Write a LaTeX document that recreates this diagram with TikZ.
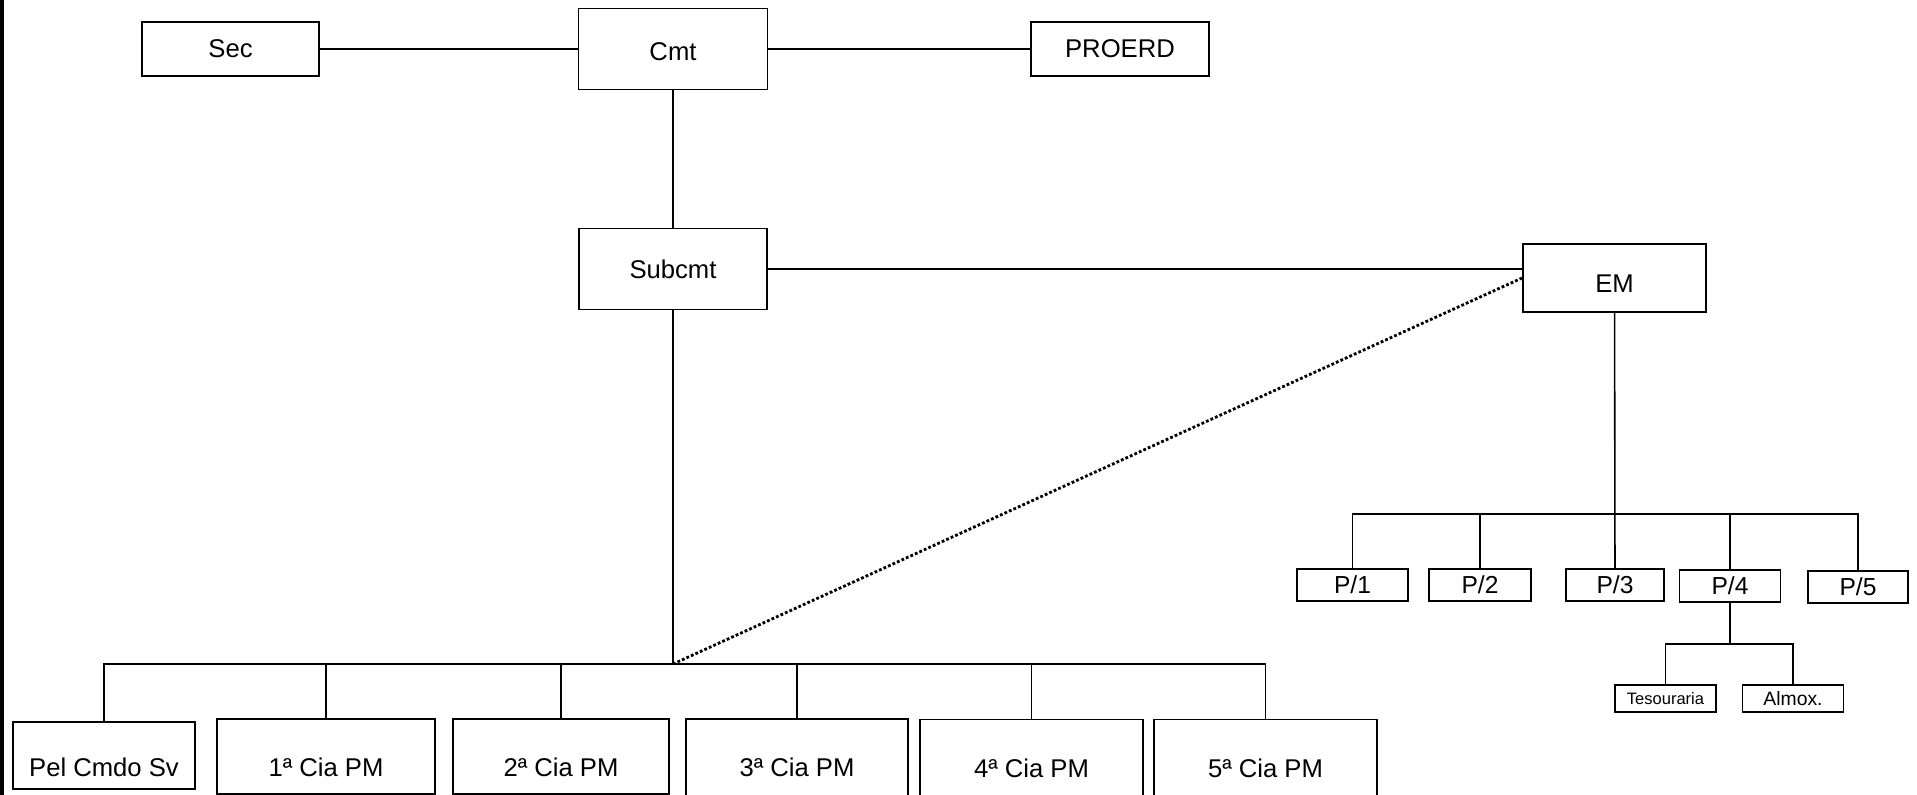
\documentclass[tikz,border=0pt]{standalone}
\usepackage{fontspec}
\setmainfont{Liberation Sans}
\begin{document}
\begin{tikzpicture}[
  box/.style={draw,line width=0.55pt,inner sep=0pt,font=\fontsize{7.3}{9}\selectfont},
  pbox/.style={box,minimum height=0.32cm,font=\fontsize{7}{8}\selectfont},
  ciabox/.style={box,inner ysep=0pt,text height=0.58cm,text depth=0.17cm},
  link/.style={line width=0.45pt}]
  \useasboundingbox (0,0) rectangle (19.17,-7.95);
  \fill (0,0) rectangle (0.045,-7.95);
  \node[box,minimum width=1.77cm,minimum height=0.54cm] (sec) at (2.305,-0.49) {Sec};
  \node[box,minimum width=1.89cm,minimum height=0.81cm,text height=0.23cm] (cmt) at (6.73,-0.49) {Cmt};
  \node[box,minimum width=1.88cm,minimum height=0.81cm] (subcmt) at (6.73,-2.69) {Subcmt};
  \node[box,minimum width=1.78cm,minimum height=0.54cm] (proerd) at (11.20,-0.49) {PROERD};
  \node[box,minimum width=1.83cm,minimum height=0.68cm,text height=0.29cm] (em) at (16.145,-2.78) {EM};
  \node[pbox,minimum width=1.11cm] (p1) at (13.525,-5.85) {P/1};
  \node[pbox,minimum width=1.02cm] (p2) at (14.80,-5.85) {P/2};
  \node[pbox,minimum width=0.98cm] (p3) at (16.15,-5.85) {P/3};
  \node[pbox,minimum width=1.01cm] (p4) at (17.30,-5.86) {P/4};
  \node[pbox,minimum width=1.00cm] (p5) at (18.58,-5.87) {P/5};
  \node[box,minimum width=1.01cm,minimum height=0.27cm,font=\fontsize{4.7}{5}\selectfont] (tes) at (16.655,-6.985) {Tesouraria};
  \node[box,minimum width=1.01cm,minimum height=0.27cm,font=\fontsize{5.5}{6}\selectfont] (almox) at (17.93,-6.985) {Almox.};
  \node[ciabox,minimum width=1.82cm,text height=0.55cm,text depth=0.12cm] (pel) at (1.04,-7.555) {Pel Cmdo Sv};
  \node[ciabox,minimum width=2.18cm] (cia1) at (3.26,-7.565) {1ª Cia PM};
  \node[ciabox,minimum width=2.16cm] (cia2) at (5.61,-7.565) {2ª Cia PM};
  \node[ciabox,minimum width=2.22cm,text depth=0.2cm] (cia3) at (7.97,-7.58) {3ª Cia PM};
  \node[ciabox,minimum width=2.23cm,text depth=0.2cm] (cia4) at (10.315,-7.585) {4ª Cia PM};
  \node[ciabox,minimum width=2.23cm,text depth=0.2cm] (cia5) at (12.655,-7.585) {5ª Cia PM};
  \coordinate (sbus) at (6.73,-6.64);
  \coordinate (pbus) at (16.145,-5.14);
  \coordinate (tbus) at (17.30,-6.44);
  \draw[link] (sec) -- (cmt) -- (proerd);
  \draw[link] (cmt) -- (subcmt);
  \draw[link] (subcmt.east) -- (subcmt.east -| em.west);
  \draw[link] (subcmt) -- (sbus);
  \foreach \n in {pel,cia1,cia2,cia3,cia4,cia5}
    \draw[link] (sbus) -| (\n.north);
  \draw[line width=0.8pt,dash pattern=on 0.8pt off 0.6pt] (sbus) -- (em.west);
  \draw[link] (em) -- (p3);
  \foreach \n in {p1,p2,p4,p5}
    \draw[link] (pbus) -| (\n.north);
  \draw[link] (p4) -- (tbus);
  \foreach \n in {tes,almox}
    \draw[link] (tbus) -| (\n.north);
\end{tikzpicture}
\end{document}
